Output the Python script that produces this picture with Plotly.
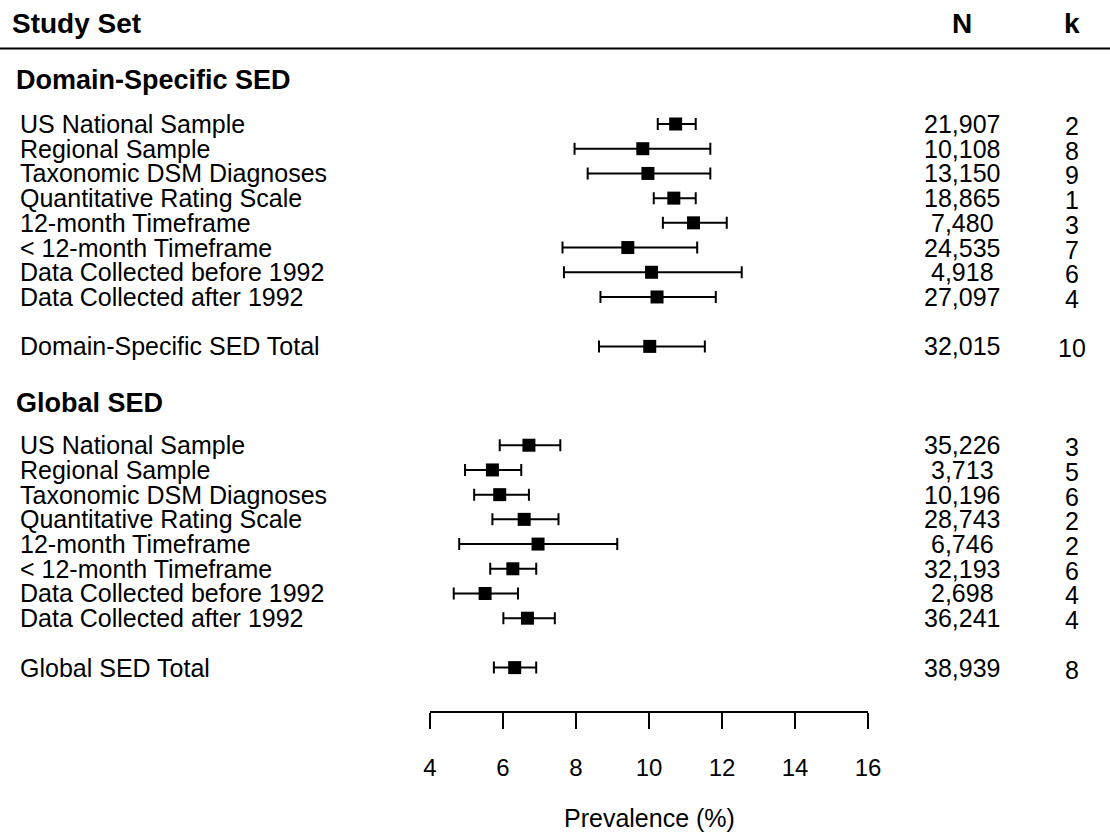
import plotly.graph_objects as go

# ---------------- data ----------------
domain_labels = ["US National Sample", "Regional Sample", "Taxonomic DSM Diagnoses",
                 "Quantitative Rating Scale", "12-month Timeframe", "< 12-month Timeframe",
                 "Data Collected before 1992", "Data Collected after 1992"]
domain_est = [10.73, 9.83, 9.97, 10.68, 11.22, 9.42, 10.07, 10.22]
domain_lo = [10.24, 7.96, 8.32, 10.13, 10.38, 7.63, 7.67, 8.67]
domain_hi = [11.28, 11.68, 11.68, 11.28, 12.13, 11.32, 12.54, 11.83]
domain_N = ["21,907", "10,108", "13,150", "18,865", "7,480", "24,535", "4,918", "27,097"]
domain_k = ["2", "8", "9", "1", "3", "7", "6", "4"]

domain_total_label = "Domain-Specific SED Total"
domain_total = [10.02, 8.63, 11.53]
domain_total_N = "32,015"
domain_total_k = "10"

global_labels = ["US National Sample", "Regional Sample", "Taxonomic DSM Diagnoses",
                 "Quantitative Rating Scale", "12-month Timeframe", "< 12-month Timeframe",
                 "Data Collected before 1992", "Data Collected after 1992"]
global_est = [6.71, 5.71, 5.91, 6.58, 6.96, 6.27, 5.51, 6.67]
global_lo = [5.91, 4.96, 5.21, 5.71, 4.80, 5.65, 4.65, 6.01]
global_hi = [7.57, 6.50, 6.71, 7.52, 9.13, 6.91, 6.41, 7.42]
global_N = ["35,226", "3,713", "10,196", "28,743", "6,746", "32,193", "2,698", "36,241"]
global_k = ["3", "5", "6", "2", "2", "6", "4", "4"]

global_total_label = "Global SED Total"
global_total = [6.32, 5.75, 6.91]
global_total_N = "38,939"
global_total_k = "8"

tick_values = [4, 6, 8, 10, 12, 14, 16]
x_title = "Prevalence (%)"
header_study = "Study Set"
header_N = "N"
header_k = "k"
section_titles = ["Domain-Specific SED", "Global SED"]

# ---------------- row layout (row units) ----------------
domain_rows = [1 + i for i in range(len(domain_labels))]
domain_total_row = domain_rows[-1] + 2
global_rows = [domain_total_row + 4 + i for i in range(len(global_labels))]
global_total_row = global_rows[-1] + 2
header_row = -3.05
rule_row = -2.06
section_rows = [-0.78, 12.3]

W, H = 1110, 836
ROW_PX = 24.71
Y0_PX = 124  # pixel position of row 1
y_top = 1 - Y0_PX / ROW_PX
y_bot = 1 + (H - Y0_PX) / ROW_PX

FONT = "Liberation Sans, Arial, sans-serif"
BLACK = "#000000"

all_est = domain_est + [domain_total[0]] + global_est + [global_total[0]]
all_lo = domain_lo + [domain_total[1]] + global_lo + [global_total[1]]
all_hi = domain_hi + [domain_total[2]] + global_hi + [global_total[2]]
all_rows = domain_rows + [domain_total_row] + global_rows + [global_total_row]

fig = go.Figure()
fig.add_trace(go.Scatter(
    x=all_est, y=all_rows, mode="markers",
    marker=dict(symbol="square", size=13, color=BLACK),
    error_x=dict(type="data", symmetric=False,
                 array=[h - e for h, e in zip(all_hi, all_est)],
                 arrayminus=[e - l for e, l in zip(all_est, all_lo)],
                 color=BLACK, thickness=2, width=6),
    showlegend=False, hoverinfo="skip", cliponaxis=False,
))

ann = []
def txt(x, y, s, size=25, bold=False, xanchor="left", yshift=0, yref="y"):
    ann.append(dict(x=x, y=y, xref="paper", yref=yref, text=f"<b>{s}</b>" if bold else s,
                    showarrow=False, xanchor=xanchor, yanchor="middle", yshift=yshift,
                    font=dict(family=FONT, size=size, color=BLACK)))

N_X = 962 / W
K_X = 1072 / W
LBL_X = 18 / W

txt(10 / W, header_row, header_study, size=28, bold=True)
txt(N_X, header_row, header_N, size=28, bold=True, xanchor="center")
txt(K_X, header_row, header_k, size=28, bold=True, xanchor="center")
txt(14 / W, section_rows[0], section_titles[0], size=27, bold=True)
txt(14 / W, section_rows[1], section_titles[1], size=27, bold=True)

for lab, r, n, k in zip(domain_labels, domain_rows, domain_N, domain_k):
    txt(LBL_X, r, lab)
    txt(N_X, r, n, xanchor="center")
    txt(K_X, r, k, xanchor="center", yshift=-2)
txt(LBL_X, domain_total_row, domain_total_label)
txt(N_X, domain_total_row, domain_total_N, xanchor="center")
txt(K_X, domain_total_row, domain_total_k, xanchor="center", yshift=-2)

for lab, r, n, k in zip(global_labels, global_rows, global_N, global_k):
    txt(LBL_X, r, lab)
    txt(N_X, r, n, xanchor="center")
    txt(K_X, r, k, xanchor="center", yshift=-2)
txt(LBL_X, global_total_row, global_total_label)
txt(N_X, global_total_row, global_total_N, xanchor="center")
txt(K_X, global_total_row, global_total_k, xanchor="center", yshift=-2)

txt(649 / W, 1 - 818 / H, x_title, yref="paper", xanchor="center")

fig.add_shape(type="line", xref="paper", yref="y", x0=0, x1=1, y0=rule_row, y1=rule_row,
              line=dict(color=BLACK, width=2))

axis_y_px = 712
fig.update_layout(
    width=W, height=H,
    autosize=False,
    margin=dict(l=0, r=0, t=0, b=0, pad=0, autoexpand=False),
    paper_bgcolor="white", plot_bgcolor="white",
    annotations=ann,
    showlegend=False,
    xaxis=dict(domain=[430 / W, 868 / W], range=[4, 16], tickvals=tick_values,
               anchor="free", position=1 - axis_y_px / H,
               showline=True, linecolor=BLACK, linewidth=2,
               ticks="outside", ticklen=16, tickwidth=2, tickcolor=BLACK,
               ticklabelstandoff=18,
               tickfont=dict(family=FONT, size=24, color=BLACK),
               showgrid=False, zeroline=False, fixedrange=True, automargin=False),
    yaxis=dict(domain=[0, 1], range=[y_bot, y_top], visible=False,
               showgrid=False, zeroline=False, fixedrange=True, automargin=False),
    font=dict(family=FONT, color=BLACK),
)

fig.write_html(
    "out.html",
    config={"responsive": False, "displayModeBar": False},
    post_script="document.body.style.margin='0';document.body.style.padding='0';"
                "document.documentElement.style.overflow='hidden';"
                "document.body.style.overflow='hidden';",
)
